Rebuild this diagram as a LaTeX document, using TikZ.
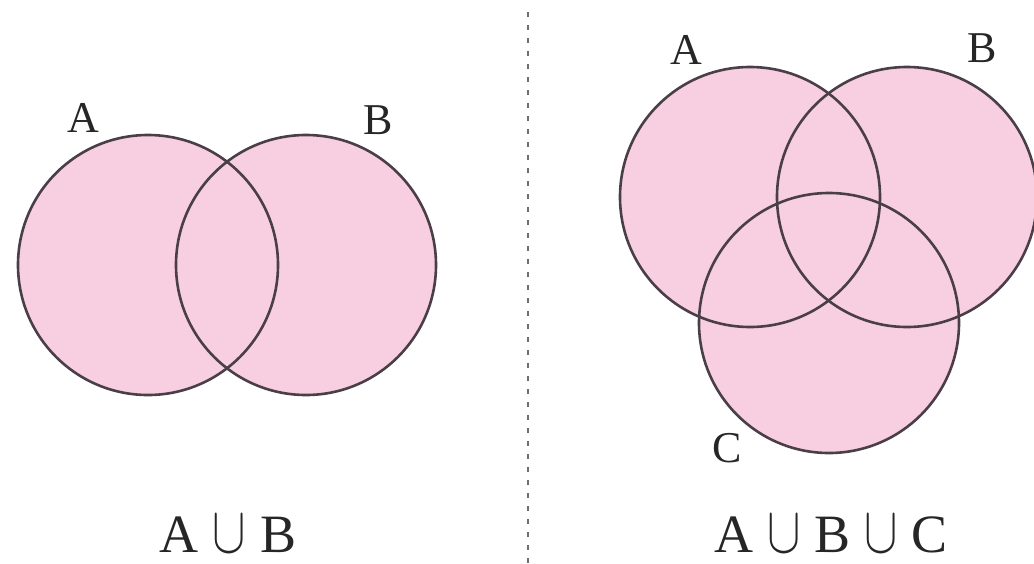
\documentclass[tikz,border=0pt]{standalone}
\usepackage{fontspec}
\usepackage{graphicx}
\setmainfont{Liberation Serif}
\definecolor{vennfill}{HTML}{F8CFE1}
\definecolor{vennline}{HTML}{4A3F49}
\definecolor{sepline}{HTML}{6E6E6E}
\newcommand{\myunion}{\hspace{14pt}\scalebox{5}[6.6]{\normalsize$\cup$}\hspace{14pt}}
\begin{document}
\begin{tikzpicture}[x=1pt,y=-1pt,
  setfill/.style={circle,minimum size=260pt,inner sep=0pt,outer sep=0pt,fill=vennfill},
  setline/.style={draw=vennline,line width=2.6pt},
  setlabel/.style={font=\fontsize{44}{44}\selectfont,inner sep=0pt,text=black!85},
  caption/.style={font=\fontsize{54}{54}\selectfont,inner sep=0pt,text=black!85},
  sep/.style={draw=sepline,line width=1.8pt,dash pattern=on 5pt off 8pt}]
\useasboundingbox (0,0) rectangle (1034,563);
% left diagram
\node[setfill] (lA) at (148,265) {};
\node[setfill] (lB) at (306,265) {};
\draw[setline] (lA.center) circle[radius=130pt];
\draw[setline] (lB.center) circle[radius=130pt];
\node[setlabel] (lAlab) at (83,118) {A};
\node[setlabel] (lBlab) at (378,120) {B};
\node[caption,anchor=base] (lcap) at (228,552) {A\myunion B};
% separator
\coordinate (septop) at (528,12);
\coordinate (sepbot) at (528,563);
\draw[sep] (septop) -- (sepbot);
% right diagram
\node[setfill] (rA) at (750,197) {};
\node[setfill] (rB) at (907,197) {};
\node[setfill] (rC) at (829,323) {};
\draw[setline] (rA.center) circle[radius=130pt];
\draw[setline] (rB.center) circle[radius=130pt];
\draw[setline] (rC.center) circle[radius=130pt];
\node[setlabel] (rAlab) at (686,50) {A};
\node[setlabel] (rBlab) at (982,48) {B};
\node[setlabel] (rClab) at (727,448) {C};
\node[caption,anchor=base] (rcap) at (831,552) {A\myunion B\myunion C};
\end{tikzpicture}
\end{document}
